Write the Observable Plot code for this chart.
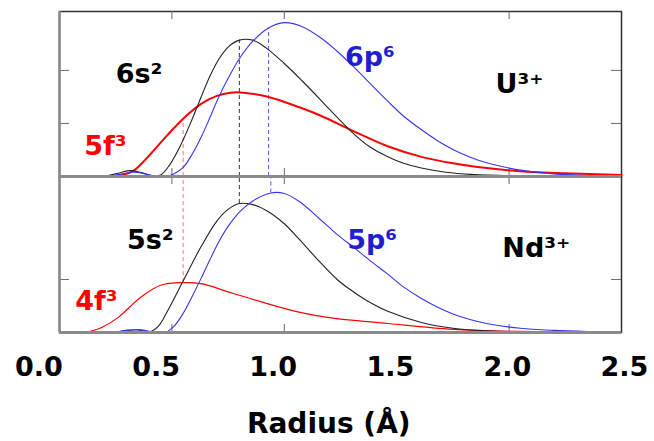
<!DOCTYPE html>
<html>
<head>
<meta charset="utf-8">
<script src="https://cdn.jsdelivr.net/npm/d3@7"></script>
<script src="https://cdn.jsdelivr.net/npm/@observablehq/plot@0.6"></script>
<style>
  html, body { margin: 0; padding: 0; background: #fff; }
  #chart { position: relative; width: 654px; height: 441px; overflow: hidden; }
</style>
</head>
<body>
<div id="chart"></div>
<script>
// ---------- data (x = radius in Å, y = radial density, arbitrary units) ----------
const xTickValues = [0, 0.5, 1.0, 1.5, 2.0, 2.5];
const frameTickValues = [0.5, 1.0, 2.0];
const upperYTicks = [1, 2];
const lowerYTicks = [1];
const xTitle = "Radius (Å)";

// U3+ panel
const U_6s = [[0.20,0],[0.26,0.06],[0.31,0.11],[0.36,0.08],[0.41,0.02],[0.45,0.03],[0.49,0.22],[0.54,0.60],[0.59,1.08],[0.63,1.50],[0.67,1.90],[0.71,2.22],[0.75,2.44],[0.80,2.57],[0.86,2.57],[0.92,2.42],[1.0,2.13],[1.08,1.80],[1.16,1.45],[1.20,1.27],[1.25,1.05],[1.31,0.80],[1.38,0.56],[1.46,0.37],[1.53,0.25],[1.61,0.16],[1.72,0.08],[1.83,0.04],[2.05,0.01],[2.5,0]];
const U_6p = [[0.22,0],[0.28,0.05],[0.33,0.08],[0.38,0.05],[0.42,0.01],[0.47,0],[0.51,0.05],[0.55,0.17],[0.59,0.42],[0.63,0.74],[0.67,1.12],[0.70,1.42],[0.75,1.85],[0.80,2.22],[0.86,2.55],[0.93,2.80],[1.0,2.9],[1.07,2.84],[1.16,2.62],[1.23,2.38],[1.31,2.06],[1.38,1.76],[1.46,1.42],[1.53,1.14],[1.61,0.88],[1.68,0.68],[1.75,0.51],[1.83,0.36],[1.90,0.26],[2.05,0.12],[2.2,0.05],[2.35,0.02],[2.5,0.01]];
const U_5f = [[0.10,0],[0.25,0.01],[0.29,0.04],[0.33,0.11],[0.36,0.22],[0.40,0.40],[0.48,0.78],[0.55,1.09],[0.63,1.37],[0.70,1.52],[0.76,1.58],[0.82,1.58],[0.93,1.50],[1.07,1.30],[1.16,1.15],[1.31,0.85],[1.46,0.57],[1.61,0.37],[1.75,0.25],[1.90,0.16],[2.05,0.10],[2.25,0.06],[2.5,0.03]];

// Nd3+ panel
const Nd_5s = [[0.25,0],[0.30,0.04],[0.35,0.05],[0.40,0.01],[0.44,0.12],[0.48,0.40],[0.55,0.97],[0.63,1.62],[0.70,2.10],[0.75,2.32],[0.80,2.43],[0.86,2.41],[0.92,2.30],[1.0,2.05],[1.07,1.74],[1.16,1.32],[1.24,0.98],[1.31,0.76],[1.38,0.57],[1.46,0.40],[1.61,0.19],[1.75,0.08],[1.90,0.03],[2.1,0.01],[2.5,0]];
const Nd_5p = [[0.25,0],[0.30,0.04],[0.36,0.05],[0.42,0.01],[0.47,0],[0.51,0.12],[0.55,0.36],[0.59,0.68],[0.63,1.02],[0.67,1.38],[0.71,1.72],[0.75,2.0],[0.80,2.27],[0.86,2.48],[0.94,2.63],[1.0,2.62],[1.07,2.46],[1.16,2.13],[1.20,1.98],[1.24,1.83],[1.31,1.60],[1.38,1.36],[1.46,1.10],[1.53,0.86],[1.61,0.64],[1.68,0.48],[1.75,0.35],[1.83,0.24],[1.90,0.17],[2.05,0.08],[2.2,0.04],[2.35,0.02],[2.5,0.01]];
const Nd_4f = [[0.12,0],[0.19,0.1],[0.26,0.28],[0.31,0.47],[0.36,0.66],[0.45,0.89],[0.55,0.94],[0.63,0.92],[0.77,0.74],[0.92,0.55],[1.07,0.38],[1.20,0.28],[1.46,0.17],[1.75,0.06],[2.05,0.02],[2.5,0]];

// peak markers: [x, y]
const U_peakMarks = {black: [0.80, 2.57], blue: [0.93, 2.80], red: [0.55, 1.0]};
const Nd_peakMarks = {black: [0.80, 2.43], blue: [0.94, 2.63], red: [0.55, 0.94]};

// labels: [text, x, y]
const U_labels = [["6s²", 0.25, 1.77], ["5f³", 0.11, 0.40], ["6p⁶", 1.27, 2.09], ["U³⁺", 1.94, 1.58]];
const Nd_labels = [["5s²", 0.30, 1.58], ["4f³", 0.07, 0.42], ["5p⁶", 1.28, 1.58], ["Nd³⁺", 1.97, 1.43]];
const labelColors = ["#000000", "#ff0000", "#1f1fd2", "#000000"];

// ---------- styles ----------
const W = 654, H = 441;
const ML = 59, MR = 33;
const BLACK = "#222", BLUE = "#3535ee", RED = "#ff0000";
const font = "DejaVu Sans, Liberation Sans, sans-serif";
const svgStyle = {position: "absolute", left: "0px", top: "0px", background: "transparent", fontFamily: font, overflow: "visible"};
const frameW = W - ML - MR;

function panel({top, bottom, yMax, s, p, f, fWidth, peaks, peakFromTop, labels, yTicks}) {
  const frameH = bottom - top;
  const dash = "4,3";
  const rule = (pk, color) => peakFromTop
    ? Plot.ruleX([pk], {x: d => d[0], y1: d => d[1], y2: yMax, stroke: color, strokeDasharray: dash, strokeWidth: 1})
    : Plot.ruleX([pk], {x: d => d[0], y1: 0, y2: d => d[1], stroke: color, strokeDasharray: dash, strokeWidth: 1});
  return Plot.plot({
    width: W, height: H,
    marginLeft: ML, marginRight: MR, marginTop: top, marginBottom: H - bottom,
    x: {domain: [0, 2.5], axis: null},
    y: {domain: [0, yMax], axis: null},
    style: svgStyle,
    marks: [
      Plot.frame({stroke: "#333", strokeWidth: 1.5}),
      Plot.tickY(yTicks, {y: d => d, insetRight: frameW - 10, stroke: "#666"}),
      Plot.tickY(yTicks, {y: d => d, insetLeft: frameW - 10, stroke: "#666"}),
      Plot.tickX(frameTickValues, {x: d => d, insetBottom: frameH - 8, stroke: "#666"}),
      Plot.tickX(frameTickValues, {x: d => d, insetTop: frameH - 8, stroke: "#666"}),
      rule(peaks.red, "#ff7070"),
      rule(peaks.black, "#333"),
      rule(peaks.blue, "#5555ee"),
      Plot.line(f, {stroke: RED, strokeWidth: fWidth, curve: "catmull-rom"}),
      Plot.line(s, {stroke: BLACK, strokeWidth: 1.1, curve: "catmull-rom"}),
      Plot.line(p, {stroke: BLUE, strokeWidth: 1.1, curve: "catmull-rom"}),
      Plot.ruleY([0], {stroke: "#8a8a8a", strokeWidth: 3}),
      Plot.ruleX([0], {stroke: "#8a8a8a", strokeWidth: 2.5}),
      Plot.text(labels, {
        text: d => d[0], x: d => d[1], y: d => d[2],
        fill: (d, i) => labelColors[i],
        textAnchor: "start", lineAnchor: "bottom",
        fontSize: 27, fontWeight: "bold"
      })
    ]
  });
}

const upper = panel({top: 11, bottom: 176, yMax: 3.11, s: U_6s, p: U_6p, f: U_5f, fWidth: 2,
  peaks: U_peakMarks, peakFromTop: false, labels: U_labels, yTicks: upperYTicks});
const lower = panel({top: 176, bottom: 332, yMax: 2.94, s: Nd_5s, p: Nd_5p, f: Nd_4f, fWidth: 1.2,
  peaks: Nd_peakMarks, peakFromTop: true, labels: Nd_labels, yTicks: lowerYTicks});

const axisPlot = Plot.plot({
  width: W, height: H,
  marginLeft: 38.5, marginRight: 30, marginTop: 332, marginBottom: H - 350,
  x: {domain: [0, 2.5]},
  style: {...svgStyle, fontSize: "27px", fontWeight: "bold", color: "#000"},
  marks: [
    Plot.axisX(xTickValues, {anchor: "bottom", tickSize: 0, tickPadding: 6, tickFormat: d3.format(".1f"), label: null, fontSize: 27, fontWeight: "bold"}),
    Plot.text([xTitle], {frameAnchor: "bottom", dy: 82, dx: -3, lineAnchor: "bottom", fontSize: 28, fontWeight: "bold", fill: "#000"})
  ]
});

const chart = document.getElementById("chart");
chart.append(axisPlot, lower, upper);
</script>
</body>
</html>
